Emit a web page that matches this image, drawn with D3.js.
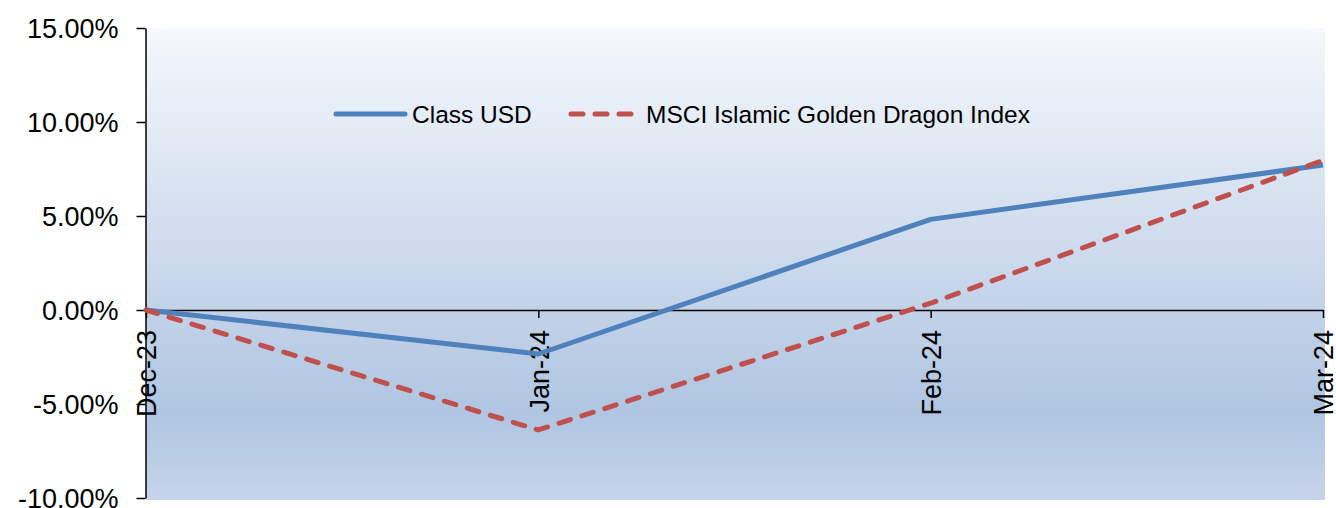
<!DOCTYPE html>
<html>
<head>
<meta charset="utf-8">
<script src="https://cdn.jsdelivr.net/npm/d3@7"></script>
<style>
  html, body { margin: 0; padding: 0; background: #ffffff; }
  svg { display: block; font-family: "Liberation Sans", Arial, sans-serif; }
</style>
</head>
<body>
<svg id="chart" width="1336" height="508"></svg>
<script>
// Monthly cumulative performance (%)
const months = ["Dec-23", "Jan-24", "Feb-24", "Mar-24"];
const classUSD = [0, -2.34, 4.82, 7.71];
const msciIndex = [0, -6.38, 0.36, 7.96];
const yTicks = [15, 10, 5, 0, -5, -10];
const seriesNames = ["Class USD", "MSCI Islamic Golden Dragon Index"];

const svg = d3.select("#chart");
const plotLeft = 146, plotRight = 1323, plotTop = 28, plotBottom = 498;

const x = d3.scalePoint().domain(months).range([plotLeft, plotRight]);
const y = d3.scaleLinear().domain([-10, 15]).range([plotBottom, plotTop]);

// Plot background gradient
const defs = svg.append("defs");
const grad = defs.append("linearGradient")
  .attr("id", "plotBg").attr("x1", 0).attr("y1", 0).attr("x2", 0).attr("y2", 1);
grad.append("stop").attr("offset", "0%").attr("stop-color", "#f5f8fc");
grad.append("stop").attr("offset", "82%").attr("stop-color", "#afc5e1");
grad.append("stop").attr("offset", "100%").attr("stop-color", "#c6d5ea");

svg.append("rect")
  .attr("x", plotLeft).attr("y", plotTop)
  .attr("width", 1325 - plotLeft).attr("height", 500 - plotTop)
  .attr("fill", "url(#plotBg)");

// Y axis
const yAxis = svg.append("g")
  .attr("transform", `translate(${plotLeft - 0.5},0)`)
  .call(d3.axisLeft(y).tickValues(yTicks).tickSize(9).tickSizeOuter(0).tickPadding(18)
    .tickFormat(d => d.toFixed(2) + "%"));
yAxis.select(".domain").attr("stroke", "#000").attr("stroke-width", 1.5);
yAxis.selectAll(".tick line").attr("stroke", "#000").attr("stroke-width", 1.5);
yAxis.selectAll(".tick text")
  .attr("fill", "#000").style("font-size", "27px")
  .attr("dy", "0.35em");

// X axis along the zero line
const xAxis = svg.append("g")
  .attr("transform", `translate(0,${y(0)})`)
  .call(d3.axisBottom(x).tickSize(8).tickSizeOuter(0));
xAxis.select(".domain").attr("stroke", "#000").attr("stroke-width", 1.5);
xAxis.selectAll(".tick line").attr("stroke", "#000").attr("stroke-width", 1.5);
xAxis.selectAll(".tick text")
  .attr("fill", "#000").style("font-size", "27px")
  .attr("transform", "rotate(-90)")
  .attr("x", -20).attr("y", 0).attr("dy", "0.36em")
  .style("text-anchor", "end");

// Series lines
const line = d3.line().x((d, i) => x(months[i])).y(d => y(d));

svg.append("path")
  .datum(classUSD)
  .attr("d", line)
  .attr("fill", "none")
  .attr("stroke", "#4f81bd")
  .attr("stroke-width", 5)
  .attr("stroke-linejoin", "round");

svg.append("path")
  .datum(msciIndex)
  .attr("d", line)
  .attr("fill", "none")
  .attr("stroke", "#c0504d")
  .attr("stroke-width", 5)
  .attr("stroke-dasharray", "12 12")
  .attr("stroke-linecap", "round")
  .attr("stroke-linejoin", "round");

// Legend
const legend = svg.append("g").style("font-size", "24.5px");
legend.append("line")
  .attr("x1", 336).attr("x2", 405).attr("y1", 114).attr("y2", 114)
  .attr("stroke", "#4f81bd").attr("stroke-width", 5).attr("stroke-linecap", "round");
legend.append("text")
  .attr("x", 412).attr("y", 114).attr("dy", "0.36em")
  .text(seriesNames[0]);
legend.append("line")
  .attr("x1", 571).attr("x2", 631).attr("y1", 114).attr("y2", 114)
  .attr("stroke", "#c0504d").attr("stroke-width", 5)
  .attr("stroke-dasharray", "12 12").attr("stroke-linecap", "round");
legend.append("text")
  .attr("x", 646).attr("y", 114).attr("dy", "0.36em")
  .text(seriesNames[1]);
</script>
</body>
</html>
